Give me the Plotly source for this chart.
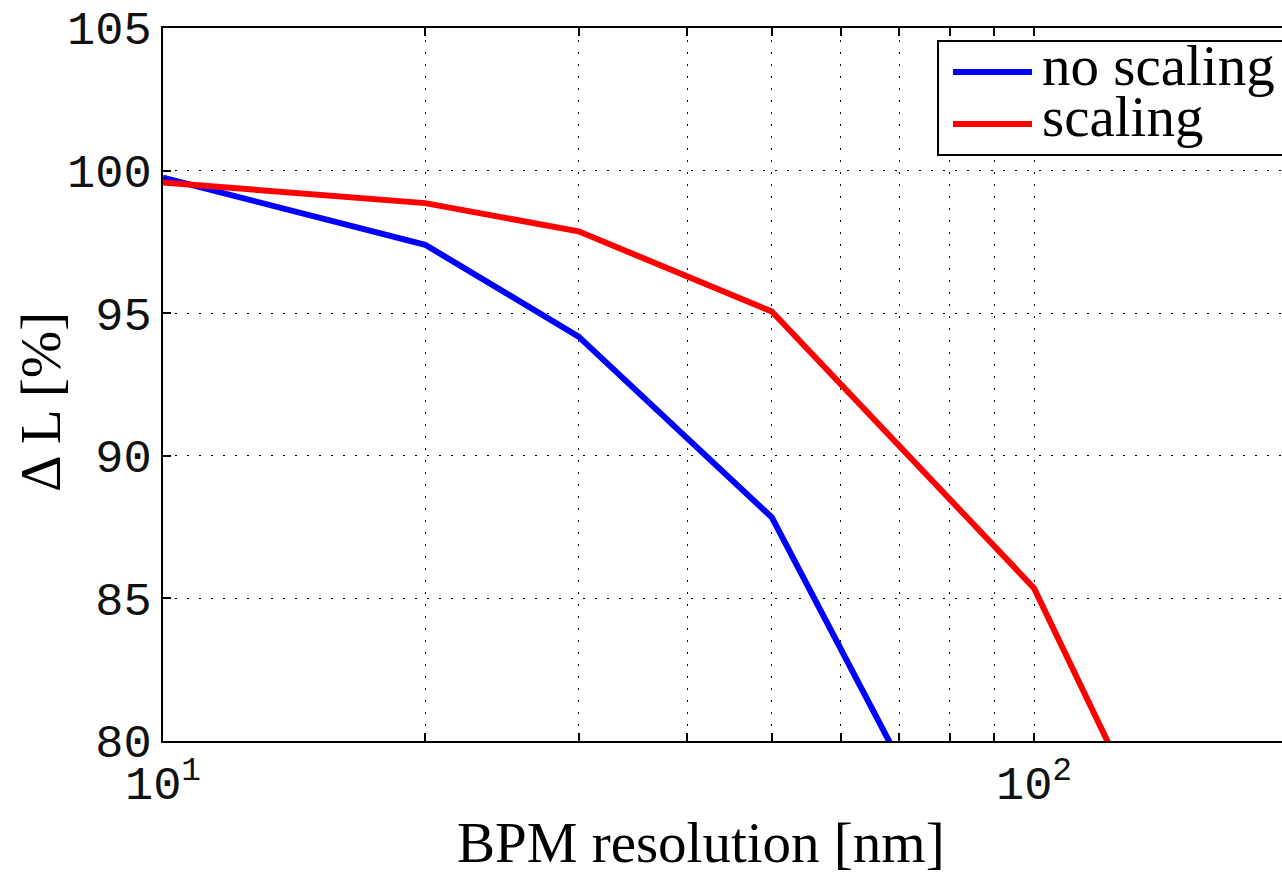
import plotly.graph_objects as go

# BPM resolution [nm] and luminance change [%]
res_no_scaling = [10, 20, 30, 50, 100]
dl_no_scaling = [99.75, 97.4, 94.18, 87.84, 70.3]

res_scaling = [10, 20, 30, 50, 100, 200]
dl_scaling = [99.58, 98.86, 97.87, 95.06, 85.36, 66.2]

legend_labels = ["no scaling", "scaling"]
line_colors = ["#0000ff", "#ff0000"]

x_tickvals = [10, 20, 30, 40, 50, 60, 70, 80, 90, 100, 200]
x_ticktext = ["10<sup>1</sup>", "", "", "", "", "", "", "", "", "10<sup>2</sup>", ""]
y_tickvals = [80, 85, 90, 95, 100, 105]

x_title = "BPM resolution [nm]"
y_title = "Δ L [%]"

tick_font = dict(family="Liberation Mono", size=47, color="#111111")
label_font = dict(family="Liberation Serif", size=57, color="black")

fig = go.Figure()
fig.add_trace(go.Scatter(x=res_no_scaling, y=dl_no_scaling, mode="lines",
                         name=legend_labels[0],
                         line=dict(color=line_colors[0], width=6)))
fig.add_trace(go.Scatter(x=res_scaling, y=dl_scaling, mode="lines",
                         name=legend_labels[1],
                         line=dict(color=line_colors[1], width=6)))

grid_dash = "2px,10px"

fig.update_xaxes(
    type="log", range=[1, 2.2847],
    tickvals=x_tickvals, ticktext=x_ticktext,
    ticks="inside", ticklen=8, tickwidth=1.5, tickcolor="black",
    showline=True, linecolor="black", linewidth=2, mirror="ticks",
    showgrid=True, gridcolor="black", gridwidth=1, griddash=grid_dash,
    tickfont=tick_font, zeroline=False,
)
fig.update_yaxes(
    range=[80, 105], tickvals=y_tickvals,
    ticks="inside", ticklen=8, tickwidth=1.5, tickcolor="black",
    showline=True, linecolor="black", linewidth=2, mirror=False,
    showgrid=True, gridcolor="black", gridwidth=1, griddash=grid_dash,
    tickfont=tick_font, zeroline=False,
)

# Axis titles
fig.add_annotation(xref="paper", yref="paper", x=0.4808, y=-0.0954,
                   xanchor="center", yanchor="top", text=x_title,
                   showarrow=False, font=label_font)
fig.add_annotation(xref="paper", yref="paper", x=-0.109, y=0.4755,
                   xanchor="center", yanchor="middle", text=y_title,
                   textangle=-90, showarrow=False, font=label_font)

# Legend box drawn in paper coordinates
fig.add_shape(type="rect", xref="paper", yref="paper",
              x0=0.6926, x1=1.05, y0=0.8219, y1=0.9818,
              line=dict(color="black", width=2), fillcolor="white", layer="above")
legend_y = [0.9383, 0.8654]
for label, color, ly in zip(legend_labels, line_colors, legend_y):
    fig.add_shape(type="line", xref="paper", yref="paper",
                  x0=0.706, x1=0.7766, y0=ly, y1=ly,
                  line=dict(color=color, width=6), layer="above")
    fig.add_annotation(xref="paper", yref="paper", x=0.7837, y=ly + 0.0098,
                       xanchor="left", yanchor="middle", text=label,
                       showarrow=False, font=label_font)

fig.update_layout(
    width=1282, height=874,
    margin=dict(l=163, r=0, t=28, b=133),
    paper_bgcolor="white", plot_bgcolor="white",
    showlegend=False,
)

fig.write_html("out.html")
